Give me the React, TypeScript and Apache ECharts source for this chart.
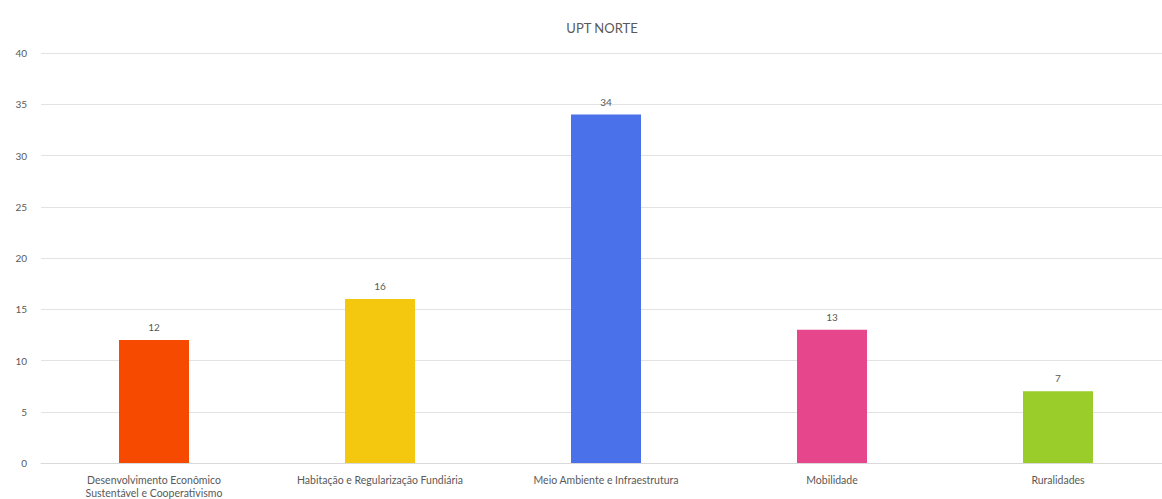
import React, { useEffect, useRef } from "react";
import * as echarts from "echarts";

const categories = [
  "Desenvolvimento Econômico\nSustentável e Cooperativismo",
  "Habitação e Regularização Fundiária",
  "Meio Ambiente e Infraestrutura",
  "Mobilidade",
  "Ruralidades",
];
const values = [12, 16, 34, 13, 7];
const colors = ["#F54A00", "#F5C810", "#4A70EA", "#E5468C", "#9ACD2A"];
const titleText = "UPT NORTE";

export default function App() {
  const ref = useRef<HTMLDivElement>(null);
  useEffect(() => {
    if (!ref.current) return;
    const chart = echarts.init(ref.current, undefined, { renderer: "svg" });
    const font = "Lato, 'Open Sans', sans-serif";
    chart.setOption({
      animation: false,
      backgroundColor: "#ffffff",
      title: {
        text: titleText,
        left: 597,
        top: 16,
        textAlign: "center",
        textStyle: { color: "#595959", fontSize: 13, fontWeight: "normal", fontFamily: font },
      },
      grid: { left: 41, width: 1130, top: 53, bottom: 36, containLabel: false },
      xAxis: {
        type: "category",
        data: categories,
        axisLine: { show: true, lineStyle: { color: "#d9d9d9" } },
        axisTick: { show: false },
        axisLabel: {
          color: "#595959",
          fontSize: 10.5,
          fontFamily: font,
          margin: 10,
          interval: 0,
          lineHeight: 13,
        },
      },
      yAxis: {
        type: "value",
        min: 0,
        max: 40,
        interval: 5,
        axisLine: { show: false },
        axisTick: { show: false },
        splitLine: { lineStyle: { color: "#e3e3e3" } },
        axisLabel: { color: "#595959", fontSize: 10, fontFamily: font, margin: 14 },
      },
      series: [
        {
          type: "bar",
          data: values.map((v, i) => ({ value: v, itemStyle: { color: colors[i] } })),
          barWidth: 70,
          label: {
            show: true,
            position: "top",
            distance: 8,
            color: "#595959",
            fontSize: 10,
            fontFamily: font,
          },
        },
      ],
    });
    return () => chart.dispose();
  }, []);
  return (
    <div
      style={{
        position: "absolute",
        left: 0,
        top: 0,
        width: 1162,
        height: 499,
        overflow: "hidden",
        background: "#ffffff",
      }}
    >
      <div ref={ref} style={{ width: 1180, height: 499 }} />
    </div>
  );
}
